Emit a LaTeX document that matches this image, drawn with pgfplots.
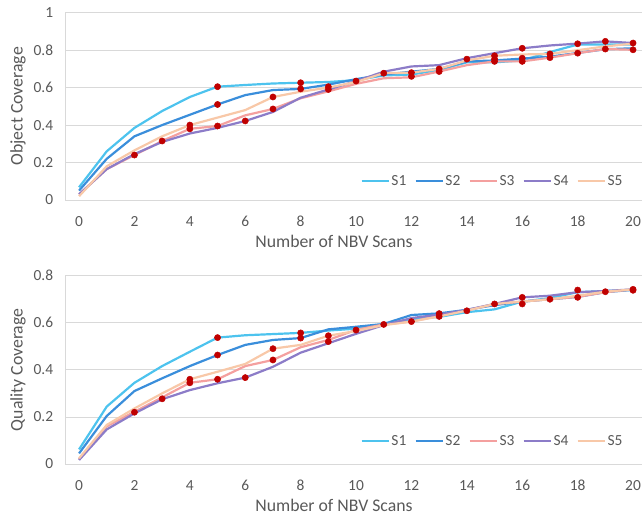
\documentclass[border=0pt]{standalone}
\usepackage{fontspec}
\setmainfont{Carlito}
\usepackage{pgfplots}
\usepackage{pgfplotstable}
\pgfplotsset{compat=1.18}
\definecolor{cS1}{HTML}{4DC3EE}
\definecolor{cS2}{HTML}{3A8EDB}
\definecolor{cS3}{HTML}{F4A09F}
\definecolor{cS4}{HTML}{8C7CC8}
\definecolor{cS5}{HTML}{F8C8A8}
\definecolor{dotred}{HTML}{C00000}
\definecolor{txt}{HTML}{595959}
\definecolor{gridc}{HTML}{D9D9D9}

\pgfplotstableread{
x S1 S2 S3 S4 S5
0 0.068 0.050 0.030 0.030 0.020
1 0.260 0.220 0.165 0.165 0.180
2 0.385 0.340 0.240 0.245 0.265
3 0.475 0.400 0.315 0.310 0.340
4 0.550 0.455 0.380 0.355 0.400
5 0.605 0.510 0.395 0.385 0.440
6 0.614 0.560 0.452 0.422 0.480
7 0.622 0.587 0.486 0.470 0.550
8 0.626 0.593 0.543 0.546 0.578
9 0.630 0.616 0.580 0.590 0.600
10 0.640 0.645 0.620 0.635 0.630
11 0.665 0.670 0.650 0.685 0.677
12 0.670 0.685 0.655 0.713 0.680
13 0.695 0.700 0.686 0.720 0.700
14 0.735 0.740 0.720 0.757 0.745
15 0.735 0.745 0.740 0.784 0.770
16 0.745 0.755 0.740 0.810 0.777
17 0.790 0.765 0.760 0.825 0.780
18 0.830 0.785 0.784 0.835 0.800
19 0.830 0.805 0.806 0.847 0.820
20 0.830 0.810 0.802 0.838 0.835
}\topdata

\pgfplotstableread{
x y
2 0.240
3 0.315
4 0.400
4 0.380
5 0.605
5 0.510
5 0.395
6 0.422
7 0.550
7 0.486
8 0.626
8 0.593
9 0.605
9 0.590
10 0.635
11 0.677
12 0.680
12 0.660
13 0.700
13 0.686
14 0.752
15 0.770
15 0.752
15 0.740
16 0.810
16 0.757
16 0.740
17 0.780
17 0.760
18 0.834
18 0.784
19 0.847
19 0.806
20 0.838
20 0.802
}\topdots

\pgfplotstableread{
x S1 S2 S3 S4 S5
0 0.062 0.045 0.020 0.017 0.024
1 0.244 0.204 0.160 0.147 0.166
2 0.345 0.310 0.222 0.215 0.236
3 0.416 0.364 0.283 0.275 0.300
4 0.477 0.416 0.345 0.314 0.360
5 0.537 0.463 0.360 0.343 0.392
6 0.547 0.506 0.416 0.367 0.425
7 0.552 0.527 0.442 0.413 0.490
8 0.557 0.535 0.496 0.473 0.506
9 0.567 0.572 0.527 0.513 0.545
10 0.575 0.583 0.570 0.553 0.565
11 0.590 0.595 0.593 0.590 0.590
12 0.615 0.633 0.605 0.620 0.605
13 0.625 0.640 0.630 0.635 0.627
14 0.645 0.655 0.652 0.655 0.652
15 0.657 0.675 0.680 0.680 0.680
16 0.690 0.690 0.690 0.708 0.690
17 0.705 0.700 0.700 0.715 0.700
18 0.730 0.710 0.710 0.730 0.715
19 0.735 0.730 0.730 0.735 0.732
20 0.740 0.740 0.742 0.742 0.742
}\botdata

\pgfplotstableread{
x y
2 0.220
3 0.277
4 0.360
4 0.345
5 0.537
5 0.463
5 0.360
6 0.367
7 0.490
7 0.442
8 0.557
8 0.535
9 0.545
9 0.520
10 0.569
11 0.593
12 0.605
13 0.639
13 0.627
14 0.651
15 0.680
16 0.708
16 0.680
17 0.700
18 0.739
18 0.708
19 0.732
20 0.742
20 0.738
}\botdots

\pgfplotsset{
 mystyle/.style={
  scale only axis, width=581.7bp,
  xmin=-0.5, xmax=20.5,
  xtick={0,2,...,20},
  axis line style={gridc, line width=0.8bp},
  ymajorgrids, major grid style={gridc, line width=0.8bp},
  major tick length=0pt,
  tick label style={font=\fontsize{15.5}{18}\selectfont, text=txt},
  /pgf/number format/assume math mode=true,
  xticklabel style={anchor=center, yshift=-21.7bp},
  yticklabel style={anchor=east, xshift=-8.5bp},
  label style={font=\fontsize{17.8}{20}\selectfont, text=txt},
  xlabel={Number of NBV Scans},
  legend columns=5,
  legend style={draw=none, fill=none, font=\fontsize{15.5}{18}\selectfont, text=txt,
    anchor=center, inner sep=0pt,
    nodes={inner sep=1.5bp},
    /tikz/every even column/.append style={column sep=6.5bp}},
  legend image code/.code={\draw[##1, line width=2.6bp] (0bp,0bp) -- (27bp,0bp);},
  every axis plot/.append style={line width=2.2bp},
  dots/.style={only marks, mark=*, mark size=3.1bp, line width=0.5bp, color=dotred, forget plot},
 }
}

\begin{document}
\begin{tikzpicture}
\begin{axis}[mystyle, at={(65.2bp,317bp)}, anchor=south west, height=187.3bp,
  ymin=0, ymax=1, ytick={0,0.2,...,1.0},
  ylabel={Object Coverage},
  ylabel style={at={(axis description cs:-0.0811,0.5)}, anchor=center},
  xlabel style={at={(axis description cs:0.462,-0.222)}, anchor=center},
  legend style={at={(axis description cs:0.734,0.101)}}]
\addplot[cS1] table[x=x,y=S1] {\topdata};
\addplot[cS2] table[x=x,y=S2] {\topdata};
\addplot[cS3] table[x=x,y=S3] {\topdata};
\addplot[cS4] table[x=x,y=S4] {\topdata};
\addplot[cS5] table[x=x,y=S5] {\topdata};
\addplot[dots] table[x=x,y=y] {\topdots};
\legend{S1,S2,S3,S4,S5}
\end{axis}
\begin{axis}[mystyle, at={(65.2bp,53bp)}, anchor=south west, height=188.3bp,
  ymin=0, ymax=0.8, ytick={0,0.2,0.4,0.6,0.8},
  ylabel={Quality Coverage},
  ylabel style={at={(axis description cs:-0.0811,0.5)}, anchor=center},
  xlabel style={at={(axis description cs:0.462,-0.2177)}, anchor=center},
  legend style={at={(axis description cs:0.734,0.122)}}]
\addplot[cS1] table[x=x,y=S1] {\botdata};
\addplot[cS2] table[x=x,y=S2] {\botdata};
\addplot[cS3] table[x=x,y=S3] {\botdata};
\addplot[cS4] table[x=x,y=S4] {\botdata};
\addplot[cS5] table[x=x,y=S5] {\botdata};
\addplot[dots] table[x=x,y=y] {\botdots};
\legend{S1,S2,S3,S4,S5}
\end{axis}
\pgfresetboundingbox
\useasboundingbox (0,0) rectangle (642bp,517bp);
\end{tikzpicture}
\end{document}
